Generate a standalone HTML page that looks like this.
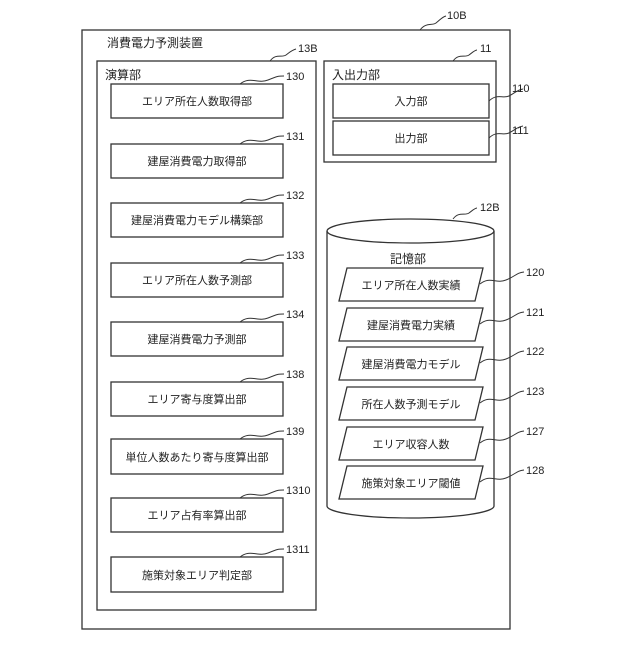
<!DOCTYPE html>
<html><head><meta charset="utf-8"><style>
body{margin:0;background:#fff}
text{font-family:"Liberation Sans","Noto Sans CJK JP",sans-serif;fill:#222}
</style></head><body>
<svg width="640" height="640" viewBox="0 0 640 640" xmlns="http://www.w3.org/2000/svg">
<g fill="none" stroke="#333" stroke-width="1.3">
<rect x="82" y="30" width="428" height="599"/>
<rect x="97" y="61" width="219" height="549"/>
<rect x="324" y="61" width="172" height="101"/>
<rect x="333" y="84" width="156" height="34"/>
<rect x="333" y="121" width="156" height="34"/>
<rect x="111" y="84" width="172" height="34"/>
<rect x="111" y="144" width="172" height="34"/>
<rect x="111" y="203" width="172" height="34"/>
<rect x="111" y="263" width="172" height="34"/>
<rect x="111" y="322" width="172" height="34"/>
<rect x="111" y="382" width="172" height="34"/>
<rect x="111" y="439" width="172" height="35"/>
<rect x="111" y="498" width="172" height="34"/>
<rect x="111" y="557" width="172" height="35"/>
<!-- cylinder -->
<path d="M327,231 L327,506 A83.5,12 0 0 0 494,506 L494,231"/>
<ellipse cx="410.5" cy="231" rx="83.5" ry="12"/>
<!-- parallelograms -->
<path d="M347,268 L483,268 L475,301 L339,301 Z"/>
<path d="M347,308 L483,308 L475,341 L339,341 Z"/>
<path d="M347,347 L483,347 L475,380 L339,380 Z"/>
<path d="M347,387 L483,387 L475,420 L339,420 Z"/>
<path d="M347,427 L483,427 L475,460 L339,460 Z"/>
<path d="M347,466 L483,466 L475,499 L339,499 Z"/>
<!-- squiggles -->
<g stroke-width="1">
<path d="M420,30 c6,-8 12,-4 16,-7 s6,-6 10,-7"/>
<path d="M270,61 c6,-8 12,-3 16,-6 s6,-5 10,-6"/>
<path d="M453,61 c6,-8 12,-3 16,-6 s6,-5 8,-5"/>
<path d="M240,84 c10,-8 18,0 28,-4 s10,-4 16,-4"/>
<path d="M240,144 c10,-8 18,0 28,-4 s10,-4 16,-4"/>
<path d="M240,203 c10,-8 18,0 28,-4 s10,-4 16,-4"/>
<path d="M240,263 c10,-8 18,0 28,-4 s10,-4 16,-4"/>
<path d="M240,322 c10,-8 18,0 28,-4 s10,-4 16,-4"/>
<path d="M240,382 c10,-8 18,0 28,-4 s10,-4 16,-4"/>
<path d="M240,439 c10,-8 18,0 28,-4 s10,-4 16,-4"/>
<path d="M240,498 c10,-8 18,0 28,-4 s10,-4 16,-4"/>
<path d="M240,557 c10,-8 18,0 28,-4 s10,-4 16,-4"/>
<path d="M489,101 c8,-8 14,-2 20,-5 s8,-6 14,-7"/>
<path d="M489,138 c8,-8 14,-2 20,-5 s8,-6 14,-7"/>
<path d="M453,219 c6,-8 12,-3 16,-6 s6,-5 8,-5"/>
<path d="M480,284 c10,-8 16,0 26,-4 s10,-7 18,-8"/>
<path d="M480,324 c10,-8 16,0 26,-4 s10,-7 18,-8"/>
<path d="M480,363 c10,-8 16,0 26,-4 s10,-7 18,-8"/>
<path d="M480,403 c10,-8 16,0 26,-4 s10,-7 18,-8"/>
<path d="M480,443 c10,-8 16,0 26,-4 s10,-7 18,-8"/>
<path d="M480,482 c10,-8 16,0 26,-4 s10,-7 18,-8"/>
</g>
</g>
<g font-size="11">
<text x="447" y="19">10B</text>
<text x="298" y="52">13B</text>
<text x="480" y="52">11</text>
<text x="286" y="80">130</text>
<text x="286" y="140">131</text>
<text x="286" y="199">132</text>
<text x="286" y="259">133</text>
<text x="286" y="318">134</text>
<text x="286" y="378">138</text>
<text x="286" y="435">139</text>
<text x="286" y="494">1310</text>
<text x="286" y="553">1311</text>
<text x="512" y="92">110</text>
<text x="512" y="134">111</text>
<text x="480" y="211">12B</text>
<text x="526" y="276">120</text>
<text x="526" y="316">121</text>
<text x="526" y="355">122</text>
<text x="526" y="395">123</text>
<text x="526" y="435">127</text>
<text x="526" y="474">128</text>
</g>
<g font-size="12">
<text x="107" y="47">消費電力予測装置</text>
<text x="105" y="79">演算部</text>
<text x="332" y="79">入出力部</text>
<text x="390" y="263">記憶部</text>
</g>
<g font-size="11" text-anchor="middle">
<text x="411" y="105">入力部</text>
<text x="411" y="142">出力部</text>
<text x="197" y="105">エリア所在人数取得部</text>
<text x="197" y="165">建屋消費電力取得部</text>
<text x="197" y="224">建屋消費電力モデル構築部</text>
<text x="197" y="284">エリア所在人数予測部</text>
<text x="197" y="343">建屋消費電力予測部</text>
<text x="197" y="403">エリア寄与度算出部</text>
<text x="197" y="461">単位人数あたり寄与度算出部</text>
<text x="197" y="519">エリア占有率算出部</text>
<text x="197" y="579">施策対象エリア判定部</text>
<text x="411" y="289">エリア所在人数実績</text>
<text x="411" y="329">建屋消費電力実績</text>
<text x="411" y="368">建屋消費電力モデル</text>
<text x="411" y="408">所在人数予測モデル</text>
<text x="411" y="448">エリア収容人数</text>
<text x="411" y="487">施策対象エリア閾値</text>
</g>
</svg>
</body></html>
